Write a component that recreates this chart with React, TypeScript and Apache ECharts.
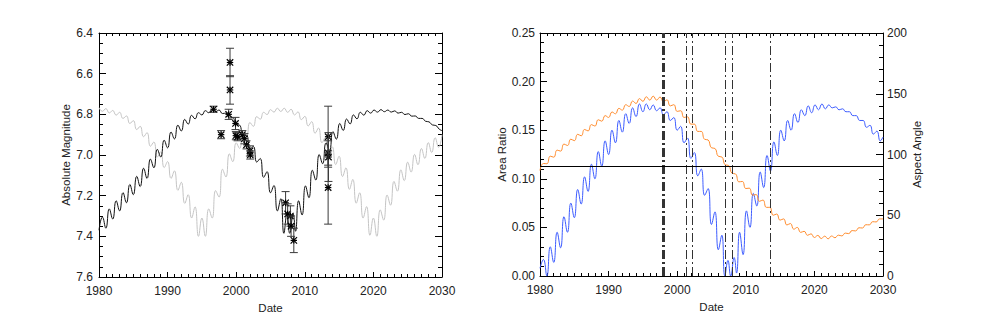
import React, { useEffect, useRef } from "react";
import * as echarts from "echarts";

// ---------- data ----------
const halfYears = [1980,1980.5,1981,1981.5,1982,1982.5,1983,1983.5,1984,1984.5,1985,1985.5,1986,1986.5,1987,1987.5,1988,1988.5,1989,1989.5,1990,1990.5,1991,1991.5,1992,1992.5,1993,1993.5,1994,1994.5,1995,1995.5,1996,1996.5,1997,1997.5,1998,1998.5,1999,1999.5,2000,2000.5,2001,2001.5,2002,2002.5,2003,2003.5,2004,2004.5,2005,2005.5,2006,2006.5,2007,2007.5,2008,2008.5,2009,2009.5,2010,2010.5,2011,2011.5,2012,2012.5,2013,2013.5,2014,2014.5,2015,2015.5,2016,2016.5,2017,2017.5,2018,2018.5,2019,2019.5,2020,2020.5,2021,2021.5,2022,2022.5,2023,2023.5,2024,2024.5,2025,2025.5,2026,2026.5,2027,2027.5,2028,2028.5,2029,2029.5,2030];

const wiggleYears = [1980,1980.5,1981,1981.5,1982,1982.5,1983,1983.5,1984,1984.5,1985,1985.5,1986,1986.5,1987,1987.5,1988,1988.5,1989,1989.5,1990,1990.5,1991,1991.5,1992,1992.5,1993,1993.5,1994,1994.5,1995,1995.5,1996,1996.5,1997,1997.5,1998,1998.5,1999,1999.5,2000,2000.5,2001,2001.5,2002,2002.5,2003,2003.5,2004,2004.5,2005,2005.5,2006,2006.5,
  2006.95,2007.4,2007.8,2008.3,2008.65,
  2009.1,2009.6,2010.1,2010.6,2011.1,2011.6,2012.1,2012.6,2013.1,2013.6,2014.1,2014.6,2015.1,2015.6,2016.1,2016.6,2017.1,2017.6,2018.1,2018.6,2019.1,2019.6,2020.1,2020.6,2021.1,2021.6,2022.1,2022.6,2023.1,2023.6,2024.1,2024.6,2025.1,2025.6,2026.1,2026.6,2027.1,2027.6,2028.1,2028.6,2029.1,2029.6,2030];

// black model magnitude (on wiggleYears)
const blackMag = [7.370,7.305,7.360,7.265,7.315,7.225,7.275,7.185,7.235,7.145,7.195,7.105,7.155,7.065,7.115,7.020,7.063,6.972,7.010,6.927,6.965,6.887,6.921,6.853,6.882,6.825,6.848,6.805,6.822,6.792,6.803,6.782,6.792,6.776,6.786,6.779,6.796,6.794,6.818,6.817,6.850,6.853,6.905,6.903,6.970,6.958,7.035,7.017,7.110,7.082,7.186,7.150,7.275,7.215,
  7.385,7.290,7.385,7.290,7.375,
  7.225,7.295,7.152,7.210,7.075,7.123,6.998,7.043,6.940,6.977,6.885,6.922,6.845,6.879,6.823,6.847,6.803,6.822,6.790,6.804,6.782,6.794,6.779,6.789,6.777,6.787,6.779,6.789,6.783,6.794,6.790,6.801,6.797,6.809,6.808,6.820,6.820,6.834,6.837,6.852,6.855,6.873,6.880];

// gray model magnitude (on halfYears)
const grayMag = [6.767,6.785,6.772,6.793,6.781,6.804,6.790,6.820,6.808,6.845,6.831,6.875,6.859,6.910,6.890,6.957,6.936,7.010,6.984,7.062,7.032,7.115,7.078,7.174,7.134,7.238,7.195,7.310,7.255,7.400,7.310,7.400,7.265,7.310,7.175,7.207,7.070,7.108,6.994,7.033,6.940,6.968,6.885,6.907,6.840,6.859,6.811,6.824,6.790,6.801,6.777,6.789,6.770,6.786,6.770,6.790,6.775,6.803,6.788,6.826,6.810,6.857,6.836,6.893,6.867,6.940,6.913,6.994,6.960,7.047,7.006,7.106,7.063,7.169,7.120,7.237,7.186,7.310,7.254,7.395,7.310,7.400,7.270,7.320,7.197,7.247,7.130,7.178,7.073,7.126,7.035,7.084,6.997,7.048,6.968,7.017,6.939,6.988,6.915,6.962,6.900];

// observations
const obsYear = [1996.7,1997.8,1999.1,1999.1,1998.9,1999.9,1999.95,2000.2,2000.9,2001.2,2001.5,2002.0,2002.05,2007.2,2007.5,2007.9,2008.0,2008.4,2013.4,2013.4,2013.45,2013.4];
const obsMag = [6.775,6.90,6.545,6.68,6.80,6.845,6.905,6.91,6.90,6.92,6.95,6.98,7.00,7.235,7.29,7.30,7.35,7.42,6.91,6.99,7.01,7.16];
const obsErr = [0.015,0.02,0.07,0.07,0.025,0.03,0.02,0.02,0.02,0.025,0.02,0.025,0.02,0.055,0.05,0.05,0.05,0.06,0.15,0.06,0.12,0.18];

// area ratio (on wiggleYears)
const areaRatio = [0.008,0.017,0.000,0.030,0.014,0.045,0.029,0.061,0.045,0.075,0.060,0.089,0.074,0.102,0.087,0.115,0.100,0.128,0.113,0.139,0.125,0.150,0.137,0.160,0.148,0.167,0.157,0.173,0.164,0.177,0.169,0.177,0.171,0.176,0.170,0.173,0.166,0.169,0.160,0.163,0.150,0.154,0.137,0.142,0.121,0.127,0.103,0.110,0.083,0.090,0.053,0.066,0.027,0.042,
  0.000,0.016,0.000,0.019,0.003,
  0.045,0.022,0.067,0.050,0.085,0.072,0.107,0.091,0.124,0.108,0.138,0.124,0.150,0.139,0.160,0.150,0.167,0.158,0.171,0.165,0.175,0.168,0.176,0.171,0.177,0.172,0.176,0.173,0.174,0.171,0.172,0.169,0.169,0.165,0.165,0.160,0.160,0.153,0.155,0.146,0.149,0.139,0.143];

// aspect angle (on halfYears)
const aspectAngle = [86.8,92.6,92.4,98.6,97.8,103.6,102.8,108.6,107.4,112.6,111.4,116.6,115.4,120.6,119.4,124.6,123.4,128.6,127.4,132.0,130.5,135.0,133.5,138.0,136.5,141.0,139.5,144.0,142.0,146.0,143.8,147.5,144.8,148.0,144.8,147.3,143.5,145.0,140.0,141.0,135.5,136.0,130.5,131.0,125.0,125.0,119.0,119.0,112.5,112.0,105.5,105.0,98.5,98.0,91.5,91.0,84.5,84.0,77.5,77.8,72.0,72.3,66.5,67.0,61.5,62.5,56.5,56.5,50.0,51.0,46.0,47.0,42.0,43.2,38.5,40.0,35.9,36.8,33.5,34.7,31.7,33.4,30.8,32.8,30.6,32.9,31.5,33.6,33.0,35.3,34.9,37.4,37.1,39.7,39.5,42.2,42.1,44.7,44.5,47.0,47.0];

const epochYears = [1997.75, 1997.95, 1998.15, 2001.3, 2002.2, 2007.0, 2008.0, 2013.5];
const referenceAngle = 90;

const xTicks = { min: 1980, max: 2030, interval: 10 };

// ---------- helpers ----------
const zip = (xs: number[], ys: number[]) => xs.map((x, i) => [x, ys[i]]);

const FONT = "Liberation Sans";
const TXT = "#222";

function xAxisDef(gridIndex: number, position: "top" | "bottom", labels: boolean) {
  return {
    type: "value",
    gridIndex,
    position,
    min: xTicks.min,
    max: xTicks.max,
    interval: xTicks.interval,
    name: labels ? "Date" : "",
    nameLocation: "middle",
    nameGap: 21,
    nameTextStyle: { fontFamily: FONT, fontSize: 11.5, color: TXT },
    splitLine: { show: false },
    axisLine: { show: true, onZero: false, lineStyle: { color: "#000", width: 1 } },
    axisTick: { show: true, inside: true, length: 5, lineStyle: { color: "#000" } },
    minorTick: { show: true, splitNumber: 10, length: 3, lineStyle: { color: "#000" } },
    axisLabel: { show: labels, margin: 8, fontFamily: FONT, fontSize: 12, color: TXT, formatter: (v: number) => String(Math.round(v)) },
  };
}

function yAxisDef(opts: any) {
  return {
    type: "value",
    nameLocation: "middle",
    nameRotate: 90,
    nameTextStyle: { fontFamily: FONT, fontSize: 11.5, color: TXT },
    splitLine: { show: false },
    axisLine: { show: true, onZero: false, lineStyle: { color: "#000", width: 1 } },
    axisTick: { show: true, inside: true, length: 7, lineStyle: { color: "#000" } },
    minorTick: { show: true, length: 4, lineStyle: { color: "#000" } },
    ...opts,
  };
}

export default function App() {
  const ref = useRef<HTMLDivElement>(null);

  useEffect(() => {
    if (!ref.current) return;
    const chart = echarts.init(ref.current, undefined, { renderer: "svg" });

    const obsData = obsYear.map((t, i) => [t, obsMag[i], obsErr[i]]);

    const option: any = {
      animation: false,
      backgroundColor: "#fff",
      grid: [
        { left: 99, top: 33, width: 343, height: 244 },
        { left: 540, top: 33, width: 343, height: 243 },
      ],
      xAxis: [
        xAxisDef(0, "bottom", true),
        xAxisDef(0, "top", false),
        xAxisDef(1, "bottom", true),
        xAxisDef(1, "top", false),
      ],
      yAxis: [
        yAxisDef({
          gridIndex: 0, position: "left", min: 6.4, max: 7.6, interval: 0.2, inverse: true,
          name: "Absolute Magnitude", nameGap: 27,
          minorTick: { show: true, splitNumber: 4, length: 4, lineStyle: { color: "#000" } },
          axisLabel: { margin: 6, fontFamily: FONT, fontSize: 12, color: TXT, formatter: (v: number) => v.toFixed(1) },
        }),
        yAxisDef({
          gridIndex: 0, position: "right", min: 6.4, max: 7.6, interval: 0.2, inverse: true,
          minorTick: { show: true, splitNumber: 4, length: 4, lineStyle: { color: "#000" } },
          axisLabel: { show: false },
        }),
        yAxisDef({
          gridIndex: 1, position: "left", min: 0, max: 0.25, interval: 0.05,
          name: "Area Ratio", nameGap: 31,
          minorTick: { show: true, splitNumber: 5, length: 4, lineStyle: { color: "#000" } },
          axisLabel: { margin: 5, fontFamily: FONT, fontSize: 12, color: TXT, formatter: (v: number) => v.toFixed(2) },
        }),
        yAxisDef({
          gridIndex: 1, position: "right", min: 0, max: 200, interval: 50,
          name: "Aspect Angle", nameGap: 23,
          minorTick: { show: true, splitNumber: 5, length: 4, lineStyle: { color: "#000" } },
          axisLabel: { margin: 4, fontFamily: FONT, fontSize: 12, color: TXT, formatter: (v: number) => String(Math.round(v)) },
        }),
      ],
      series: [
        {
          type: "line", name: "gray", xAxisIndex: 0, yAxisIndex: 0,
          data: zip(halfYears, grayMag), showSymbol: false, smooth: 0.5,
          lineStyle: { color: "#c4c4c4", width: 1 }, silent: true, z: 2,
        },
        {
          type: "line", name: "black", xAxisIndex: 0, yAxisIndex: 0,
          data: zip(wiggleYears, blackMag), showSymbol: false, smooth: 0.5,
          lineStyle: { color: "#111", width: 1 }, silent: true, z: 3,
        },
        {
          type: "custom", name: "obs", xAxisIndex: 0, yAxisIndex: 0,
          data: obsData, dimensions: ["t", "m", "e"], encode: { x: 0, y: 1 }, z: 5, silent: true,
          renderItem: (params: any, api: any) => {
            const t = api.value(0), m = api.value(1), e = api.value(2);
            const p = api.coord([t, m]);
            const a = api.coord([t, m - e]);
            const b = api.coord([t, m + e]);
            const cw = 4, s = 3.2;
            const bar = { stroke: "#3a3a3a", lineWidth: 1, fill: null };
            const star = { stroke: "#000", lineWidth: 1.2, fill: null };
            return {
              type: "group",
              children: [
                { type: "line", shape: { x1: p[0], y1: a[1], x2: p[0], y2: b[1] }, style: bar },
                { type: "line", shape: { x1: p[0] - cw, y1: a[1], x2: p[0] + cw, y2: a[1] }, style: bar },
                { type: "line", shape: { x1: p[0] - cw, y1: b[1], x2: p[0] + cw, y2: b[1] }, style: bar },
                { type: "line", shape: { x1: p[0] - s, y1: p[1], x2: p[0] + s, y2: p[1] }, style: star },
                { type: "line", shape: { x1: p[0] - s, y1: p[1] - s, x2: p[0] + s, y2: p[1] + s }, style: star },
                { type: "line", shape: { x1: p[0] - s, y1: p[1] + s, x2: p[0] + s, y2: p[1] - s }, style: star },
                { type: "line", shape: { x1: p[0], y1: p[1] - s, x2: p[0], y2: p[1] + s }, style: star },
              ],
            };
          },
        },
        {
          type: "line", name: "area", xAxisIndex: 2, yAxisIndex: 2,
          data: zip(wiggleYears, areaRatio), showSymbol: false, smooth: 0.5,
          lineStyle: { color: "#3d5cff", width: 1 }, silent: true, z: 3,
        },
        {
          type: "line", name: "aspect", xAxisIndex: 2, yAxisIndex: 3,
          data: zip(halfYears, aspectAngle), showSymbol: false, smooth: 0.5,
          lineStyle: { color: "#ff8c2e", width: 1 }, silent: true, z: 3,
          markLine: {
            silent: true, symbol: ["none", "none"], label: { show: false }, animation: false,
            lineStyle: { color: "#333", width: 1, type: [9, 3, 2, 3] },
            data: [
              ...epochYears.map((t) => ({ xAxis: t })),
              { yAxis: referenceAngle, lineStyle: { color: "#000", width: 1, type: "solid" } },
            ],
          },
        },
      ],
    };

    chart.setOption(option);
    return () => chart.dispose();
  }, []);

  return (
    <div
      ref={ref}
      style={{ position: "absolute", left: 0, top: 0, width: 981, height: 327, background: "#fff" }}
    />
  );
}
